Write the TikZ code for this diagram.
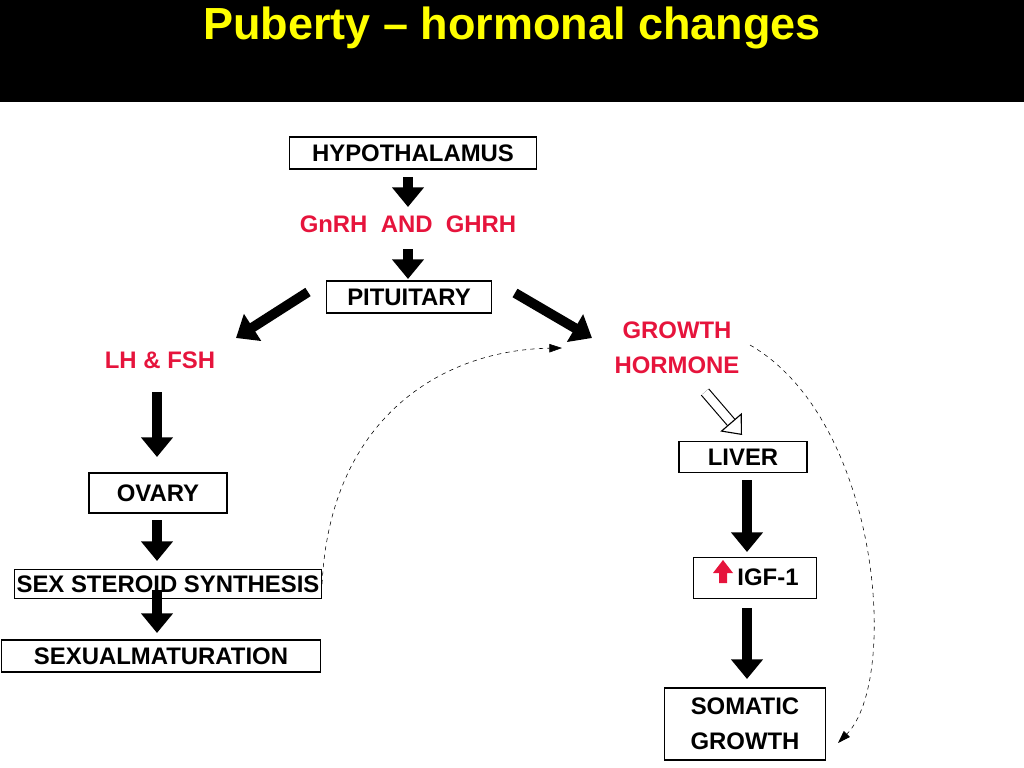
\documentclass[tikz,border=0pt]{standalone}
\usepackage{fontspec}
\setmainfont{Liberation Sans}
\usetikzlibrary{arrows.meta,positioning}
\definecolor{hormred}{RGB}{230,20,60}
\definecolor{titleyellow}{RGB}{255,255,0}
\newcommand{\px}{0.025cm}
\tikzset{organ/.style={draw,thick,font=\bfseries\fontsize{17}{19}\selectfont,inner sep=0pt,text depth=0pt},
hormone/.style={hormred,font=\bfseries\fontsize{17}{19}\selectfont},
blockarrow/.style={line width=7pt,-{Triangle[length=14pt,width=22pt]}},
hollowarrow/.style={draw,thick,double,double distance=6pt,-{Triangle[open,length=12pt,width=20pt]}},
feedback/.style={gray!60,dashed,-{Triangle[length=9pt,width=6pt]},black}}

\begin{document}
\begin{tikzpicture}[x=0.025cm,y=-0.025cm]

% Background and title
\useasboundingbox (0,0) rectangle (1024,768);
\fill[black] (0,0) rectangle (1024,102);
\node[titleyellow,font=\bfseries\fontsize{32}{36}\selectfont] (title) at (512,28) {Puberty -- hormonal changes};

% Nodes
\node[organ,minimum width=247*\px,minimum height=32*\px] (hyp) at (413,153) {HYPOTHALAMUS};
\node[hormone] (gnrh) at (408,224) {GnRH\ \ AND\ \ GHRH};
\node[organ,minimum width=165*\px,minimum height=32*\px] (pit) at (409,297) {PITUITARY};
\node[hormone] (lhfsh) at (160,360) {LH \& FSH};
\node[hormone,align=center] (gh) at (677,348) {GROWTH\\[2mm]HORMONE};
\node[organ,minimum width=138*\px,minimum height=40*\px] (ovary) at (158,493) {OVARY};
\node[organ,minimum width=307*\px,minimum height=29*\px] (sex) at (168,584) {SEX STEROID SYNTHESIS};
\node[organ,minimum width=319*\px,minimum height=32*\px] (mat) at (161,656) {SEXUALMATURATION};
\node[organ,minimum width=128*\px,minimum height=31*\px] (liver) at (743,457) {LIVER};
\node[organ,minimum width=123*\px,minimum height=41*\px] (igf) at (755,578) {};
\node[font=\bfseries\fontsize{17}{19}\selectfont] (igftext) at (768,577) {IGF-1};
\node[organ,minimum width=161*\px,minimum height=72*\px,align=center] (soma) at (745,724) {SOMATIC\\[2mm]GROWTH};

% Arrow ends
\coordinate (a1) at (408,177); \coordinate (b1) at (408,207);
\coordinate (a2) at (408,249); \coordinate (b2) at (408,279);
\coordinate (a3) at (308,292); \coordinate (b3) at (236,338);
\coordinate (a4) at (515,293); \coordinate (b4) at (592,338);
\coordinate (a5) at (157,392); \coordinate (b5) at (157,457);
\coordinate (a6) at (157,520); \coordinate (b6) at (157,561);
\coordinate (a7) at (157,590); \coordinate (b7) at (157,633);
\coordinate (a8) at (705,392); \coordinate (b8) at (742,435);
\coordinate (a9) at (747,480); \coordinate (b9) at (747,552);
\coordinate (a10) at (747,608); \coordinate (b10) at (747,679);

% Connectors
\draw[blockarrow] (a1) -- (b1);
\draw[blockarrow] (a2) -- (b2);
\draw[blockarrow] (a3) -- (b3);
\draw[blockarrow] (a4) -- (b4);
\draw[blockarrow] (a5) -- (b5);
\draw[blockarrow] (a6) -- (b6);
\draw[blockarrow] (a7) -- (b7);
\draw[hollowarrow] (a8) -- (b8);
\draw[blockarrow] (a9) -- (b9);
\draw[blockarrow] (a10) -- (b10);
\fill[hormred] (719,583) -- ++(0,-10) -- ++(-6,0) -- ++(10,-13) -- ++(10,13) -- ++(-6,0) -- ++(0,10) -- cycle;

% Feedback loops
\coordinate (fb1) at (562,348); \coordinate (fb2) at (838,743);
\draw[feedback] (sex.east) .. controls (330,420) and (440,350) .. (fb1);
\draw[feedback] (750,345) .. controls (880,420) and (900,680) .. (fb2);

\end{tikzpicture}
\end{document}
